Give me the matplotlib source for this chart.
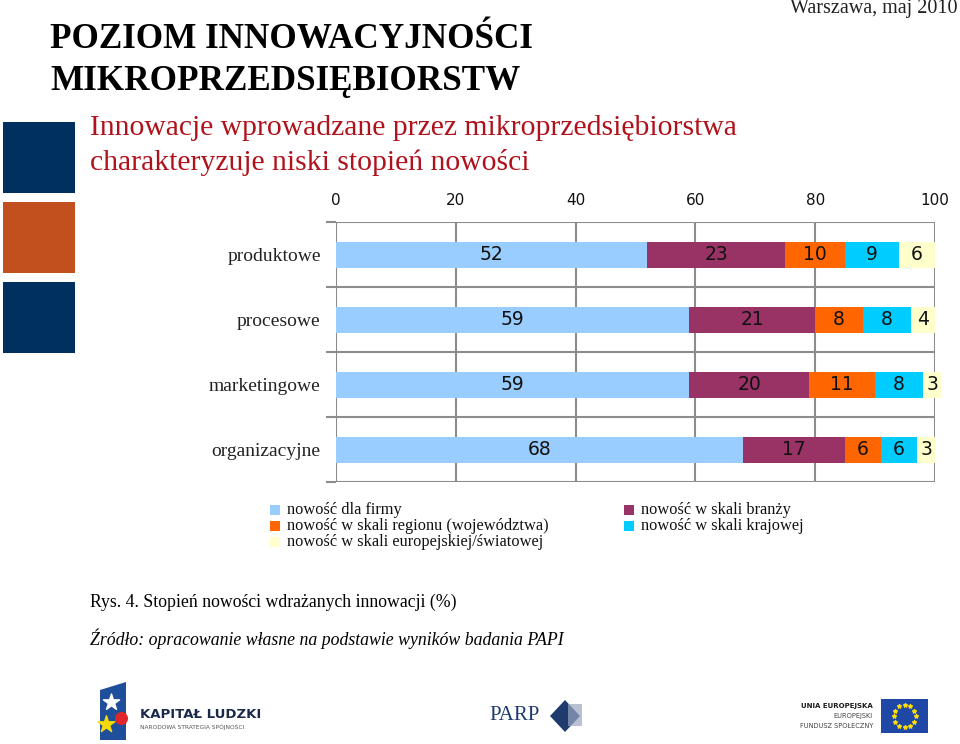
import matplotlib
matplotlib.use("Agg")
import matplotlib.pyplot as plt
from matplotlib.patches import Rectangle, Polygon
import numpy as np

# ---- data ----
categories = ["produktowe", "procesowe", "marketingowe", "organizacyjne"]
series_names = [
    "nowość dla firmy",
    "nowość w skali branży",
    "nowość w skali regionu (województwa)",
    "nowość w skali krajowej",
    "nowość w skali europejskiej/światowej",
]
firma = [52, 59, 59, 68]
branza = [23, 21, 20, 17]
region = [10, 8, 11, 6]
kraj = [9, 8, 8, 6]
europa = [6, 4, 3, 3]
x_ticks = [0, 20, 40, 60, 80, 100]

series_values = [firma, branza, region, kraj, europa]
colors = ["#99CCFF", "#993366", "#FF6600", "#00CCFF", "#FFFFCC"]

W, H = 960, 744
fig = plt.figure(figsize=(W / 100, H / 100), dpi=100)
fig.patch.set_facecolor("white")

SERIF = ["Liberation Serif", "DejaVu Serif"]
SANS = ["DejaVu Sans"]

# ---- decoration overlay (pixel coordinates) ----
deco = fig.add_axes([0, 0, 1, 1])
deco.set_xlim(0, W)
deco.set_ylim(H, 0)
deco.axis("off")

for (y0, y1, c) in [(122, 193, "#00305E"), (202, 273, "#C24F1E"), (282, 353, "#00305E")]:
    deco.add_patch(Rectangle((3, y0), 72, y1 - y0, facecolor=c, edgecolor="none"))

deco.text(958, 9, "Warszawa, maj 2010", ha="right", va="center",
          fontsize=14.5, family=SERIF, color="#222222")
deco.text(50, 39, "POZIOM INNOWACYJNOŚCI", ha="left", va="center",
          fontsize=25.3, fontweight="bold", family=SERIF, color="black")
deco.text(50, 81, "MIKROPRZEDSIĘBIORSTW", ha="left", va="center",
          fontsize=25.3, fontweight="bold", family=SERIF, color="black")
deco.text(90, 128, "Innowacje wprowadzane przez mikroprzedsiębiorstwa", ha="left",
          va="center", fontsize=21.3, family=SERIF, color="#B0121B")
deco.text(90, 162, "charakteryzuje niski stopień nowości", ha="left",
          va="center", fontsize=21.3, family=SERIF, color="#B0121B")

deco.text(90, 602, "Rys. 4. Stopień nowości wdrażanych innowacji (%)", ha="left",
          va="center", fontsize=12.8, family=SERIF, color="black")
deco.text(90, 639, "Źródło: opracowanie własne na podstawie wyników badania PAPI",
          ha="left", va="center", fontsize=12.8, family=SERIF, style="italic",
          color="black")

# logos (approximations)
deco.add_patch(Polygon([(100, 690), (126, 682), (126, 740), (100, 740)],
                       closed=True, facecolor="#1F4E9A", edgecolor="none"))
deco.scatter([111], [702], marker="*", s=150, color="white", zorder=3)
deco.scatter([121], [718], marker="o", s=70, color="#E0262B", zorder=3)
deco.scatter([106], [724], marker="*", s=160, color="#F5D90A", zorder=3)
deco.text(140, 714, "KAPITAŁ LUDZKI", ha="left", va="center", fontsize=9.5,
          fontweight="bold", family=["DejaVu Sans"], color="#1B2A4A")
deco.text(140, 727, "NARODOWA STRATEGIA SPÓJNOŚCI", ha="left", va="center",
          fontsize=4.2, family=["DejaVu Sans"], color="#555555")

deco.text(489, 716, "PARP", ha="left", va="center", fontsize=15,
          family=SERIF, color="#1F3B6E")
deco.add_patch(Polygon([(550, 716), (565, 700), (580, 716), (565, 732)],
                       closed=True, facecolor="#1F3B6E", edgecolor="none"))
deco.add_patch(Rectangle((568, 704), 14, 22, facecolor="#9AA6C0", edgecolor="none",
                         alpha=0.7))

deco.text(873, 706, "UNIA EUROPEJSKA", ha="right", va="center", fontsize=5.0,
          fontweight="bold", family=["DejaVu Sans"], color="#1B1B1B")
deco.text(873, 716, "EUROPEJSKI", ha="right", va="center", fontsize=4.8,
          family=["DejaVu Sans"], color="#444444")
deco.text(873, 726, "FUNDUSZ SPOŁECZNY", ha="right", va="center", fontsize=4.8,
          family=["DejaVu Sans"], color="#444444")
deco.add_patch(Rectangle((881, 699), 47, 34, facecolor="#1E47A6", edgecolor="none"))
ang = np.linspace(0, 2 * np.pi, 13)[:-1]
deco.scatter(904.5 + 11 * np.cos(ang), 716 + 11 * np.sin(ang), marker="*", s=8,
             color="#FFDD00", zorder=3)

# ---- chart ----
ax_left, ax_right, ax_top, ax_bottom = 336, 935, 222, 482
ax = fig.add_axes([ax_left / W, 1 - ax_bottom / H,
                   (ax_right - ax_left) / W, (ax_bottom - ax_top) / H])
ax.set_facecolor("none")
ypos = np.arange(len(categories))
left = np.zeros(len(categories))
for vals, col, name in zip(series_values, colors, series_names):
    ax.barh(ypos, vals, left=left, height=0.4, color=col, edgecolor="none",
            label=name, zorder=3, clip_on=False)
    for yi, (v, l) in enumerate(zip(vals, left)):
        ax.text(l + v / 2, yi, f"{v}", ha="center", va="center", fontsize=13.5,
                family=SANS, color="#111111", zorder=4)
    left = left + np.array(vals)

ax.set_xlim(0, 100)
ax.set_ylim(len(categories) - 0.5, -0.5)
ax.set_xticks(x_ticks)
ax.set_xticklabels([str(t) for t in x_ticks], family=SANS, fontsize=11,
                   color="#111111")
ax.xaxis.tick_top()
ax.tick_params(axis="x", length=0, pad=10)
ax.set_yticks(ypos)
ax.set_yticklabels(categories, family=SERIF, fontsize=14, color="#222222")
ax.tick_params(axis="y", length=0, pad=11)
ax.set_yticks(np.arange(-0.5, len(categories) + 0.5, 1), minor=True)
ax.tick_params(axis="y", which="minor", length=7, width=1.5, color="#8C8C8C")

grid_c = "#8C8C8C"
for t in x_ticks:
    ax.axvline(t, color=grid_c, lw=1.5, zorder=1)
for b in np.arange(-0.5, len(categories) + 0.5, 1):
    ax.axhline(b, color=grid_c, lw=1.5, zorder=1)
for s in ax.spines.values():
    s.set_visible(False)

# ---- legend (pixel coords on overlay) ----
leg_items = [
    (270, 510, 0), (270, 526, 2), (270, 542, 4),
    (624, 510, 1), (624, 526, 3),
]
for (lx, ly, idx) in leg_items:
    deco.add_patch(Rectangle((lx, ly - 5), 10, 10, facecolor=colors[idx],
                             edgecolor="none"))
    deco.text(lx + 17, ly, series_names[idx], ha="left", va="center",
              fontsize=11.8, family=SERIF, color="#111111")

fig.savefig("out.png", dpi=100, facecolor="white")
